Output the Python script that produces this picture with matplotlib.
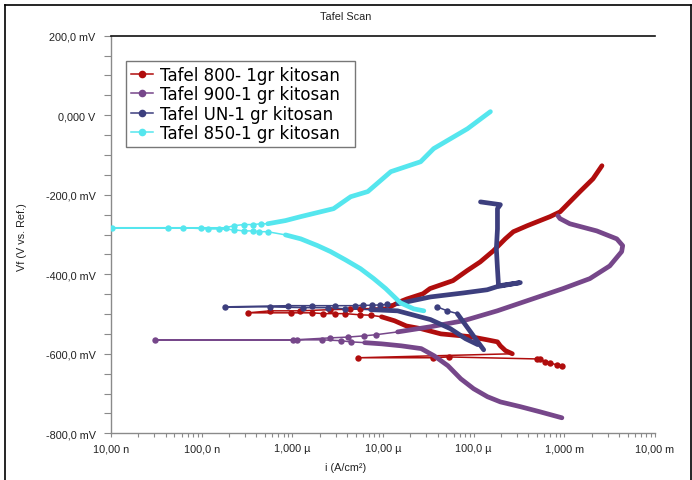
import matplotlib
matplotlib.use("Agg")
import matplotlib.pyplot as plt
from matplotlib.lines import Line2D
from matplotlib.ticker import FixedLocator, LogLocator, NullFormatter, MultipleLocator

plt.rcParams['font.family'] = ['Liberation Sans', 'DejaVu Sans']

# ---------------- data (current in µA/cm², potential in mV) ----------------
labels = ["Tafel 800- 1gr kitosan", "Tafel 900-1 gr kitosan",
          "Tafel UN-1 gr kitosan", "Tafel 850-1 gr kitosan"]
colors = ["#b00d0d", "#76478a", "#3d3f7e", "#55e6ee"]

# Tafel 800
red_start_i = [940, 828, 695, 612, 540, 500]
red_start_E = [-630, -628, -623, -620, -613, -613]
red_jump_i = [53.3, 35.6, 5.3]
red_jump_E = [-608, -610, -610]
red_cath_i = [267, 224, 197, 183, 142, 92.7, 43.6, 26.4, 18.1, 13.4, 9.63]
red_cath_E = [-600, -592, -580, -570, -565, -557, -550, -537, -530, -517, -507]
red_cdots_i = [7.3, 5.6, 3.8, 2.95, 2.2, 1.65, 0.97]
red_cdots_E = [-503, -502, -499, -499, -499, -497, -497]
red_corr_i = [0.324]
red_corr_E = [-497]
red_adots_i = [0.57, 1.22, 2.6, 4.3, 5.55, 7.6]
red_adots_E = [-492, -492, -489, -488, -487, -486]
red_anod_i = [12.0, 15.4, 18.4, 27.6, 33.0, 59.2, 84.5, 118, 165, 223, 274,
              389, 697, 897, 1490, 2070, 2600]
red_anod_E = [-482, -469, -462, -449, -436, -416, -391, -369, -341, -311, -293,
              -278, -255, -243, -192, -160, -127]

# Tafel 900
pur_cath_i = [940, 540, 327, 197, 142, 100, 72.1, 52.0, 36.6, 26.4, 15.9, 9.63, 6.28]
pur_cath_E = [-761, -746, -733, -721, -708, -688, -663, -630, -605, -587, -580, -575, -572]
pur_cdots_i = [4.4, 3.4, 2.15, 1.13]
pur_cdots_E = [-570, -567, -565, -565]
pur_corr_i = [0.0306]
pur_corr_E = [-565]
pur_adots_i = [1.03, 2.62, 4.1, 6.1, 8.4]
pur_adots_E = [-565, -560, -558, -555, -552]
pur_anod_i = [14.5, 33.4, 77.0, 182, 420, 968, 1910, 3170, 4290, 4400, 3790,
              2280, 1150, 895, 850]
pur_anod_E = [-545, -532, -517, -492, -464, -436, -411, -379, -343, -328, -311,
              -291, -273, -260, -253]

# Tafel UN
nav_sdots_i = [39.6, 51.2]
nav_sdots_E = [-482, -492]
nav_start_i = [66.0, 77.0, 99.5, 129]
nav_start_E = [-499, -520, -555, -590]
nav_cath_i = [111, 81.2, 55.5, 33.4, 14.5, 7.3]
nav_cath_E = [-577, -562, -537, -514, -492, -489]
nav_cdots_i = [3.85, 2.45, 1.32, 0.56]
nav_cdots_E = [-487, -484, -484, -482]
nav_corr_i = [0.181]
nav_corr_E = [-482]
nav_adots_i = [0.90, 1.66, 2.98, 4.95, 6.0, 7.6, 9.35, 11.1]
nav_adots_E = [-479, -479, -479, -479, -478, -478, -477, -476]
nav_anod_i = [14.5, 18.7, 33.4, 77.0, 141, 182, 327, 188, 183, 178, 183, 183, 197, 119]
nav_anod_E = [-474, -469, -457, -447, -439, -431, -421, -429, -386, -336, -286,
              -235, -225, -218]

# Tafel 850
cya_cath_i = [28.2, 21.8, 15.6, 10.7, 7.9, 5.65, 3.87, 2.64, 1.9, 1.24, 0.84]
cya_cath_E = [-492, -487, -472, -436, -411, -386, -364, -343, -328, -311, -301]
cya_cdots_i = [0.535, 0.43, 0.37, 0.29, 0.225, 0.155, 0.117, 0.063]
cya_cdots_E = [-293, -293, -291, -291, -288, -286, -286, -283]
cya_corr_i = [0.0102]
cya_corr_E = [-283]
cya_adots_i = [0.043, 0.098, 0.185, 0.225, 0.29, 0.37, 0.45]
cya_adots_E = [-283, -283, -283, -278, -275, -275, -273]
cya_anod_i = [0.535, 0.84, 1.24, 2.85, 4.4, 6.8, 12.2, 26.0, 36.2, 85.5, 153]
cya_anod_E = [-273, -265, -255, -235, -205, -192, -142, -117, -84, -34, 9]

xtick_vals = [1e-8, 1e-7, 1e-6, 1e-5, 1e-4, 1e-3, 1e-2]
xtick_labels = ["10,00 n", "100,0 n", "1,000 µ", "10,00 µ", "100,0 µ", "1,000 m", "10,00 m"]
ytick_vals = [-800, -600, -400, -200, 0, 200]
ytick_labels = ["-800,0 mV", "-600,0 mV", "-400,0 mV", "-200,0 mV", "0,000 V", "200,0 mV"]

series = [
    [("dots", red_start_i, red_start_E), ("dots", red_jump_i, red_jump_E),
     ("trace", red_cath_i, red_cath_E), ("dots", red_cdots_i, red_cdots_E),
     ("dots", red_corr_i, red_corr_E), ("dots", red_adots_i, red_adots_E),
     ("trace", red_anod_i, red_anod_E)],
    [("trace", pur_cath_i, pur_cath_E), ("dots", pur_cdots_i, pur_cdots_E),
     ("dots", pur_corr_i, pur_corr_E), ("dots", pur_adots_i, pur_adots_E),
     ("trace", pur_anod_i, pur_anod_E)],
    [("dots", nav_sdots_i, nav_sdots_E), ("trace", nav_start_i, nav_start_E),
     ("trace", nav_cath_i, nav_cath_E), ("dots", nav_cdots_i, nav_cdots_E),
     ("dots", nav_corr_i, nav_corr_E), ("dots", nav_adots_i, nav_adots_E),
     ("trace", nav_anod_i, nav_anod_E)],
    [("trace", cya_cath_i, cya_cath_E), ("dots", cya_cdots_i, cya_cdots_E),
     ("dots", cya_corr_i, cya_corr_E), ("dots", cya_adots_i, cya_adots_E),
     ("trace", cya_anod_i, cya_anod_E)],
]

# ---------------- figure ----------------
W, H = 692, 481
fig = plt.figure(figsize=(W / 100, H / 100), dpi=100)
ax_l, ax_r, ax_t, ax_b = 111, 655, 36.7, 434.3
ax = fig.add_axes([ax_l / W, 1 - ax_b / H, (ax_r - ax_l) / W, (ax_b - ax_t) / H])

for pieces, col in zip(series, colors):
    all_i, all_E = [], []
    for kind, ii, EE in pieces:
        all_i += [v * 1e-6 for v in ii]
        all_E += list(EE)
    ax.plot(all_i, all_E, '-', color=col, lw=1.1, zorder=2)
    for kind, ii, EE in pieces:
        xi = [v * 1e-6 for v in ii]
        if kind == "trace":
            ax.plot(xi, EE, '-', color=col, lw=3.4, solid_capstyle='round',
                    solid_joinstyle='round', zorder=3)
        else:
            ax.plot(xi, EE, 'o', color=col, ms=4.6, mew=0, zorder=3)

ax.set_xscale('log')
ax.set_xlim(1e-8, 1e-2)
ax.set_ylim(-800, 200)

ax.xaxis.set_major_locator(FixedLocator(xtick_vals))
ax.set_xticklabels(xtick_labels)
ax.xaxis.set_minor_locator(LogLocator(base=10, subs=range(2, 10)))
ax.xaxis.set_minor_formatter(NullFormatter())
ax.set_yticks(ytick_vals)
ax.set_yticklabels(ytick_labels)
ax.yaxis.set_minor_locator(MultipleLocator(50))

ax.tick_params(axis='both', which='both', direction='out', colors='#8a8a8a',
               labelcolor='#222222', labelsize=7.8, width=0.8)
ax.tick_params(axis='y', which='both', length=5, pad=6)
ax.tick_params(axis='x', which='both', length=3, pad=4)

for s in ['left', 'bottom']:
    ax.spines[s].set_color('#8a8a8a')
    ax.spines[s].set_linewidth(1.0)
ax.spines['right'].set_visible(False)
ax.spines['top'].set_color('#111111')
ax.spines['top'].set_linewidth(1.2)

handles = [Line2D([0], [0], color=c, lw=1.1, marker='o', ms=5.5, mew=0) for c in colors]
AW, AH = ax_r - ax_l, ax_b - ax_t
leg = ax.legend(handles, labels, loc='upper left', mode='expand',
                bbox_to_anchor=((126 - ax_l) / AW, (ax_b - 146) / AH,
                                (355 - 126) / AW, (146 - 62) / AH),
                borderaxespad=0, prop={'family': 'DejaVu Sans', 'size': 12},
                frameon=True, fancybox=False,
                edgecolor='#555555', handlelength=1.3, handletextpad=0.45,
                labelspacing=0.08, borderpad=0.3)
leg.get_frame().set_linewidth(1.0)

fig.text(346 / W, 1 - 17 / H, "Tafel Scan", ha='center', va='center', fontsize=7.8, color='#222222')
fig.text(22 / W, 1 - 237 / H, "Vf (V vs. Ref.)", ha='center', va='center', rotation=90,
         fontsize=7.8, color='#222222')
fig.text(346 / W, 1 - 468 / H, "i (A/cm²)", ha='center', va='center', fontsize=7.8, color='#222222')

# outer frame
for xs, ys in [([5 / W, 5 / W], [0, 1 - 6 / H]),
               ([5 / W, 690.5 / W], [1 - 6 / H, 1 - 6 / H]),
               ([690.5 / W, 690.5 / W], [0, 1 - 6 / H])]:
    fig.add_artist(Line2D(xs, ys, transform=fig.transFigure, color='black', lw=1.2))

fig.savefig("out.png", dpi=100)
